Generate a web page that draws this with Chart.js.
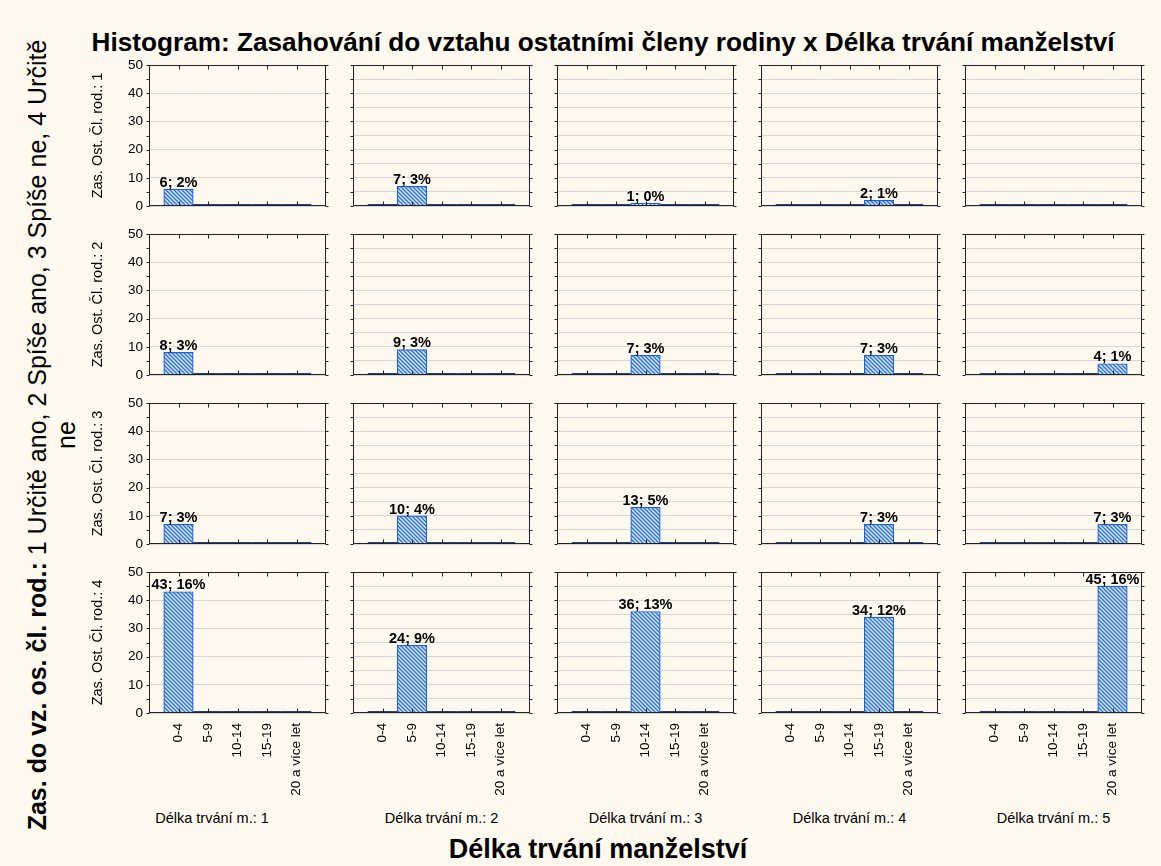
<!DOCTYPE html>
<html><head><meta charset="utf-8">
<script src="https://cdn.jsdelivr.net/npm/chart.js@4.4.0/dist/chart.umd.min.js"></script>
<style>
body{margin:0;background:#fdf9ee;width:1161px;height:866px;overflow:hidden;position:relative;font-family:Arial,"Liberation Sans",sans-serif;}
.t{position:absolute;white-space:nowrap;color:#000;transform:translate(-50%,-50%);}
canvas{position:absolute;}
</style></head><body>
<div class="t" style="left:603px;top:42px;font-size:26.2px;font-weight:bold;">Histogram: Zasahování do vztahu ostatními členy rodiny x Délka trvání manželství</div>
<div class="t" style="left:598px;top:849px;font-size:27px;font-weight:bold;">Délka trvání manželství</div>
<div class="t" style="left:52px;top:435px;font-size:25px;line-height:29px;text-align:center;transform:translate(-50%,-50%) rotate(-90deg);"><b>Zas. do vz. os. čl. rod.:</b> 1 Určitě ano, 2 Spíše ano, 3 Spíše ne, 4 Určitě<br>ne</div>
<div id="wrap"></div>
<script>
// ---- data ----
const categories = ['0-4', '5-9', '10-14', '15-19', '20 a více let'];
const rowLabels = ['Zas. Ost. Čl. rod.: 1', 'Zas. Ost. Čl. rod.: 2', 'Zas. Ost. Čl. rod.: 3', 'Zas. Ost. Čl. rod.: 4'];
const colLabels = ['Délka trvání m.: 1', 'Délka trvání m.: 2', 'Délka trvání m.: 3', 'Délka trvání m.: 4', 'Délka trvání m.: 5'];
// count in panel (row r, column c) — the bar sits at category c
const countsRow1 = [6, 7, 1, 2, 0];
const countsRow2 = [8, 9, 7, 7, 4];
const countsRow3 = [7, 10, 13, 7, 7];
const countsRow4 = [43, 24, 36, 34, 45];
const yTicks = [0, 10, 20, 30, 40, 50];

const rows = [countsRow1, countsRow2, countsRow3, countsRow4];
const total = rows.flat().reduce((a, b) => a + b, 0);

const FONT = 'Arial, "Liberation Sans", sans-serif';
const PW = 177, PH = 141;
const plotLeft = c => 149 + 204 * c;
const plotTop = r => 65 + 169 * r;

function makePattern() {
  const c = document.createElement('canvas'); c.width = c.height = 4;
  const g = c.getContext('2d');
  g.fillStyle = '#d4e6ff'; g.fillRect(0, 0, 4, 4);
  g.strokeStyle = '#2a6fdb'; g.lineWidth = 1.3;
  g.beginPath();
  g.moveTo(-1, -1); g.lineTo(5, 5);
  g.moveTo(-1, 3); g.lineTo(1, 5);
  g.moveTo(3, -1); g.lineTo(5, 1);
  g.stroke();
  return g.createPattern(c, 'repeat');
}

const panelPlugin = {
  id: 'panel',
  afterDatasetsDraw(chart) {
    const ctx = chart.ctx, a = chart.chartArea;
    const xs = chart.scales.x, ys = chart.scales.y;
    const meta = chart.getDatasetMeta(0);
    ctx.save();
    meta.data.forEach((el, i) => {
      const v = chart.data.datasets[0].data[i];
      if (v === 0) {
        ctx.strokeStyle = '#23408e'; ctx.lineWidth = 2;
        ctx.beginPath();
        ctx.moveTo(el.x - el.width / 2, ys.getPixelForValue(0) - 1);
        ctx.lineTo(el.x + el.width / 2, ys.getPixelForValue(0) - 1);
        ctx.stroke();
      }
    });
    ctx.strokeStyle = '#222'; ctx.lineWidth = 1;
    const L = Math.round(a.left) + 0.5, R = Math.round(a.right) - 0.5;
    const T = Math.round(a.top) + 0.5, B = Math.round(a.bottom) - 0.5;
    ctx.strokeRect(L, T, R - L, B - T);
    ctx.beginPath();
    for (let v = 0; v <= 50; v += 5) {
      const y = Math.round(ys.getPixelForValue(v)) + 0.5;
      ctx.moveTo(L - 3, y); ctx.lineTo(L, y);
      ctx.moveTo(R, y); ctx.lineTo(R + 3, y);
    }
    for (let i = 1; i <= categories.length; i++) {
      const x = Math.round(xs.getPixelForValue(i)) + 0.5;
      ctx.moveTo(x, T); ctx.lineTo(x, T + 4);
      ctx.moveTo(x, B); ctx.lineTo(x, B - 4);
    }
    ctx.stroke();
    ctx.fillStyle = '#000';
    ctx.font = 'bold 14.5px ' + FONT;
    ctx.textAlign = 'center'; ctx.textBaseline = 'bottom';
    meta.data.forEach((el, i) => {
      const v = chart.data.datasets[0].data[i];
      if (v > 0) {
        ctx.fillText(v + '; ' + Math.round(v / total * 100) + '%', el.x, el.y + 1);
      }
    });
    ctx.restore();
  }
};

const wrap = document.getElementById('wrap');
const pattern = makePattern();
function noPad(s) { s.paddingLeft = 0; s.paddingRight = 0; s.paddingTop = 0; s.paddingBottom = 0; }

for (let r = 0; r < 4; r++) {
  for (let c = 0; c < 5; c++) {
    const Lm = c === 0 ? 64 : 10, Rm = 8, Tm = 8, Bm = r === 3 ? 95 : 8;
    const cv = document.createElement('canvas');
    const w = Lm + PW + Rm, h = Tm + PH + Bm;
    cv.width = w; cv.height = h;
    cv.style.left = (plotLeft(c) - Lm) + 'px';
    cv.style.top = (plotTop(r) - Tm) + 'px';
    cv.style.width = w + 'px'; cv.style.height = h + 'px';
    wrap.appendChild(cv);
    const data = [null];
    categories.forEach((_, k) => data.push(k === c ? rows[r][c] : 0));
    data.push(null);
    new Chart(cv, {
      type: 'bar',
      data: {
        labels: ['', ...categories, ''],
        datasets: [{ data, backgroundColor: pattern, borderColor: '#1f5fd6', borderWidth: 1.2, barPercentage: 1, categoryPercentage: 1 }]
      },
      plugins: [panelPlugin],
      options: {
        responsive: false, animation: false, devicePixelRatio: 1,
        layout: { padding: { left: 0, right: Rm, top: Tm, bottom: 0 } },
        plugins: { legend: { display: false }, tooltip: { enabled: false } },
        scales: {
          x: {
            type: 'category', offset: false,
            grid: { display: false, drawTicks: false }, border: { display: false },
            ticks: { display: r === 3, autoSkip: false, minRotation: 90, maxRotation: 90, padding: 10, color: '#000', font: { size: 13.5, family: FONT } },
            afterFit(s) { s.height = Bm; noPad(s); }
          },
          y: {
            min: 0, max: 50,
            grid: { color: '#d6d6d6', drawTicks: false }, border: { display: false },
            afterBuildTicks(s) { s.ticks = []; for (let v = 0; v <= 50; v += 5) s.ticks.push({ value: v }); },
            ticks: { display: c === 0, padding: 6, color: '#000', font: { size: 13.5, family: FONT },
              callback: v => yTicks.includes(v) ? String(v) : '' },
            title: { display: c === 0, text: rowLabels[r], color: '#000', padding: { top: 4, bottom: 0 }, font: { size: 14.5, family: FONT } },
            afterFit(s) { s.width = Lm; noPad(s); }
          }
        }
      }
    });
  }
}
colLabels.forEach((t, c) => {
  const d = document.createElement('div');
  d.className = 't';
  d.style.left = (c === 0 ? 212 : plotLeft(c) + PW / 2) + 'px';
  d.style.top = '818px';
  d.style.fontSize = '14.5px';
  d.textContent = t;
  document.body.appendChild(d);
});
</script>
</body></html>
